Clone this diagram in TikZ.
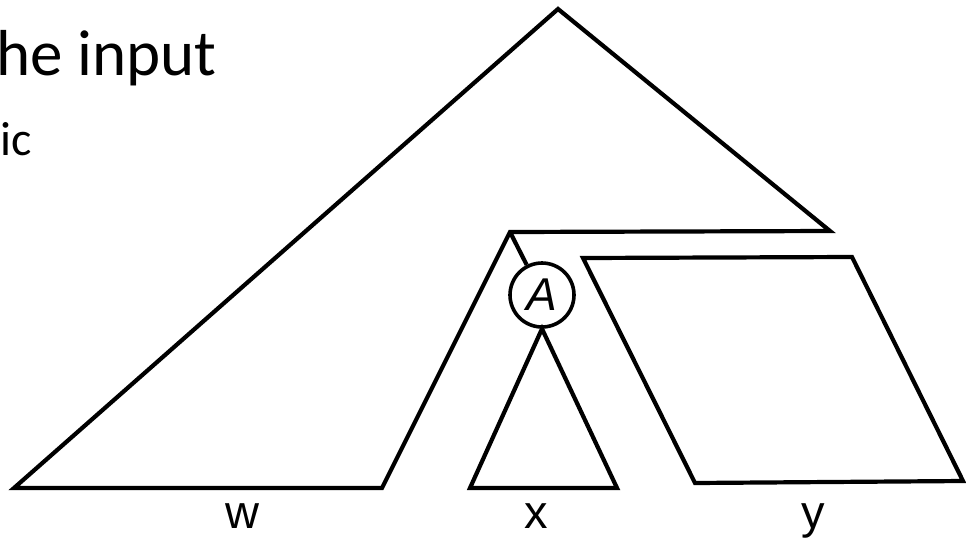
\documentclass[tikz,border=0pt]{standalone}
\usepackage{fontspec}
\setmainfont{Carlito}
\newfontfamily\arialf{Liberation Sans}
\begin{document}
\begin{tikzpicture}[x=1pt,y=-1pt,
  shapeline/.style={draw, line width=4.2pt, line join=miter},
  lbl/.style={font=\arialf\fontsize{47}{56}\selectfont, anchor=base, inner sep=0pt},
  slidetext/.style={anchor=base west, inner sep=0pt}]
\useasboundingbox (0,0) rectangle (966,539);
% slide text
\node[slidetext, font=\fontsize{65}{78}\selectfont] (t1) at (-4,75) {he input};
\node[slidetext, font=\fontsize{48}{58}\selectfont] (t2) at (0.5,155) {ic};
% outer tree
\coordinate (apex) at (558,9);
\coordinate (bl) at (14,488);
\coordinate (wr) at (382,488);
\coordinate (ic) at (510,232);
\coordinate (tr) at (830,231);
\draw[shapeline] (apex) -- (bl) -- (wr) -- (ic) -- (tr) -- cycle;
% node A
\node[draw, circle, line width=3.6pt, minimum size=64pt, inner sep=0pt,
  font=\arialf\itshape\fontsize{46}{54}\selectfont] (A) at (542,295) {A};
\draw[line width=4.2pt] (ic) -- (A);
% x subtree
\coordinate (xl) at (470,488);
\coordinate (xr) at (617,488);
\draw[shapeline] (A.south) -- (xl) -- (xr) -- cycle;
% y part
\coordinate (ytl) at (583,258);
\coordinate (ytr) at (852,257);
\coordinate (ybr) at (963,481);
\coordinate (ybl) at (695,483);
\draw[shapeline] (ytl) -- (ytr) -- (ybr) -- (ybl) -- cycle;
% labels
\node[lbl] (w) at (242,528) {w};
\node[lbl] (x) at (536,528) {x};
\node[lbl] (y) at (813,528) {y};
\end{tikzpicture}
\end{document}
